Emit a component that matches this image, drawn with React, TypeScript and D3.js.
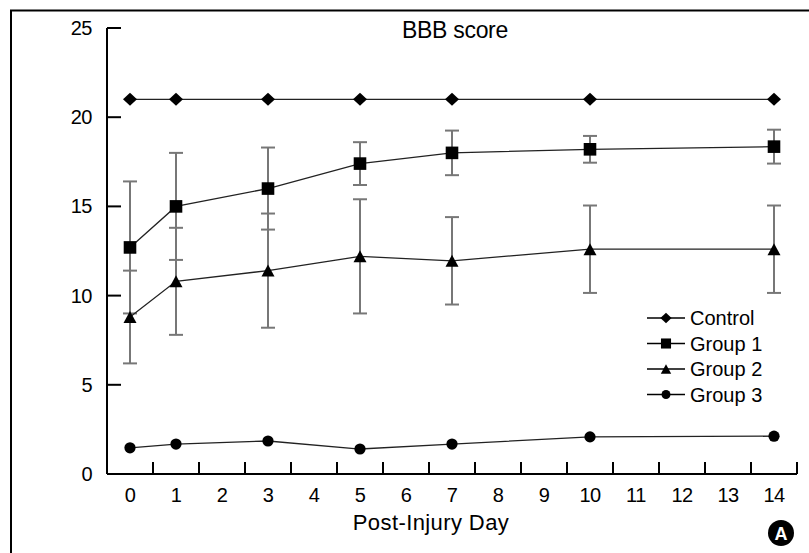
import React from "react";
import * as d3 from "d3";

const days = [0, 1, 3, 5, 7, 10, 14];
const xTickLabels = d3.range(0, 15);
const yTicks = [0, 5, 10, 15, 20, 25];

const control = [21, 21, 21, 21, 21, 21, 21];
const group1 = [12.7, 15.0, 16.0, 17.4, 18.0, 18.2, 18.35];
const group1Sd = [3.7, 3.0, 2.3, 1.2, 1.25, 0.75, 0.95];
const group2 = [8.8, 10.8, 11.4, 12.2, 11.95, 12.6, 12.6];
const group2Sd = [2.6, 3.0, 3.2, 3.2, 2.45, 2.45, 2.45];
const group3 = [1.47, 1.68, 1.85, 1.4, 1.68, 2.08, 2.12];

const seriesNames = ["Control", "Group 1", "Group 2", "Group 3"];

const W = 809;
const H = 553;
const font = "'Liberation Sans', Arial, sans-serif";

// marker shapes, centred on 0,0
const marker = (kind: string, k = 1) => {
  if (kind === "diamond") {
    const w = 7 * k, h = 6.5 * k;
    return `M0,${-h}L${w},0L0,${h}L${-w},0Z`;
  }
  if (kind === "square") {
    const s = 6.3 * k;
    return `M${-s},${-s}H${s}V${s}H${-s}Z`;
  }
  if (kind === "triangle") {
    const w = 6.5 * k, h = 6 * k;
    return `M0,${-h}L${w},${h}L${-w},${h}Z`;
  }
  const r = 5.6 * k;
  return `M${r},0A${r},${r} 0 1 1 ${-r},0A${r},${r} 0 1 1 ${r},0Z`;
};

const series = [
  { name: seriesNames[0], values: control, sd: null as number[] | null, shape: "diamond" },
  { name: seriesNames[1], values: group1, sd: group1Sd, shape: "square" },
  { name: seriesNames[2], values: group2, sd: group2Sd, shape: "triangle" },
  { name: seriesNames[3], values: group3, sd: null as number[] | null, shape: "circle" },
];

export default function App() {
  const x = d3.scaleLinear().domain([-0.5, 14.5]).range([107, 797]);
  const y = d3.scaleLinear().domain([0, 25]).range([474, 28]);

  const line = d3
    .line<number>()
    .x((_, i) => x(days[i]))
    .y((d) => y(d));

  const halfTicks = d3.range(0.5, 15, 1);
  const cap = 7;

  return (
    <svg
      width={W}
      height={H}
      style={{ position: "absolute", left: 0, top: 0, background: "#fff" }}
      fontFamily={font}
    >
      {/* frame: top and left edges */}
      <path d={`M11,${H}V10.5H${W}`} fill="none" stroke="#000" strokeWidth={2} />

      {/* title */}
      <text x={455} y={38} textAnchor="middle" fontSize={23} letterSpacing={-0.3}>
        BBB score
      </text>

      {/* y axis */}
      <line x1={107} x2={107} y1={y(25)} y2={y(0)} stroke="#000" strokeWidth={2} />
      {yTicks.map((t) => (
        <g key={t}>
          <line x1={107} x2={121} y1={y(t)} y2={y(t)} stroke="#000" strokeWidth={2} />
          <text x={92} y={y(t) + 7} textAnchor="end" fontSize={20} letterSpacing={-0.5}>
            {t}
          </text>
        </g>
      ))}

      {/* x axis */}
      <line x1={x(-0.5)} x2={x(14.5)} y1={y(0)} y2={y(0)} stroke="#000" strokeWidth={2} />
      {halfTicks.map((t) => (
        <line key={t} x1={x(t)} x2={x(t)} y1={y(0)} y2={y(0) - 12} stroke="#000" strokeWidth={2} />
      ))}
      {xTickLabels.map((t) => (
        <text key={t} x={x(t)} y={502} textAnchor="middle" fontSize={20} letterSpacing={-0.5}>
          {t}
        </text>
      ))}
      <text x={431} y={530} textAnchor="middle" fontSize={22} letterSpacing={0.4}>
        Post-Injury Day
      </text>

      {/* error bars */}
      {series.map((s) =>
        s.sd
          ? s.values.map((v, i) => {
              const cx = x(days[i]);
              const top = y(v + s.sd![i]);
              const bot = y(v - s.sd![i]);
              return (
                <g key={s.name + i} stroke="#777" strokeWidth={2}>
                  <line x1={cx} x2={cx} y1={top} y2={bot} />
                  <line x1={cx - cap} x2={cx + cap} y1={top} y2={top} />
                  <line x1={cx - cap} x2={cx + cap} y1={bot} y2={bot} />
                </g>
              );
            })
          : null
      )}

      {/* lines + markers */}
      {series.map((s) => (
        <g key={s.name}>
          <path d={line(s.values) ?? ""} fill="none" stroke="#222" strokeWidth={1.3} />
          {s.values.map((v, i) => (
            <path
              key={i}
              d={marker(s.shape)}
              transform={`translate(${x(days[i])},${y(v)})`}
              fill="#000"
            />
          ))}
        </g>
      ))}

      {/* legend */}
      {series.map((s, i) => {
        const ly = 318 + i * 25.5;
        return (
          <g key={"lg" + s.name}>
            <line x1={647} x2={685} y1={ly} y2={ly} stroke="#000" strokeWidth={1.5} />
            <path d={marker(s.shape, 0.8)} transform={`translate(666,${ly})`} fill="#000" />
            <text x={690} y={ly + 7} fontSize={20}>
              {s.name}
            </text>
          </g>
        );
      })}

      {/* panel badge */}
      <circle cx={781} cy={533} r={13} fill="#000" />
      <text x={781} y={540} textAnchor="middle" fontSize={18} fontWeight="bold" fill="#fff">
        A
      </text>
    </svg>
  );
}
